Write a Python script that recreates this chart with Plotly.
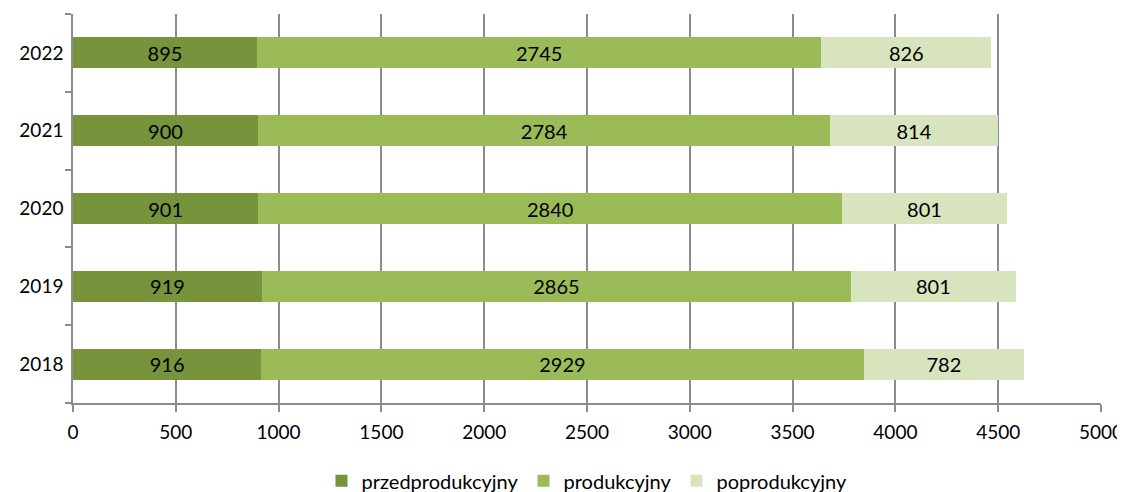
import plotly.graph_objects as go

years = ["2018", "2019", "2020", "2021", "2022"]
przedprodukcyjny = [916, 919, 901, 900, 895]
produkcyjny = [2929, 2865, 2840, 2784, 2745]
poprodukcyjny = [782, 801, 801, 814, 826]
x_ticks = [0, 500, 1000, 1500, 2000, 2500, 3000, 3500, 4000, 4500, 5000]

series = [
    ("przedprodukcyjny", przedprodukcyjny, "#77933C"),
    ("produkcyjny", produkcyjny, "#9BBB59"),
    ("poprodukcyjny", poprodukcyjny, "#D7E4BD"),
]

FONT = "Lato, 'Liberation Sans', sans-serif"

fig = go.Figure()
for name, vals, col in series:
    fig.add_trace(go.Bar(
        y=years, x=vals, name=name, orientation="h",
        marker=dict(color=col, line=dict(width=0)),
        text=[str(v) for v in vals], textposition="inside",
        insidetextanchor="middle", textangle=0, constraintext="none",
        textfont=dict(color="black", size=20, family=FONT),
    ))

# page body has an 8px default margin; size the figure to fit the window
fig.update_layout(
    barmode="stack", bargap=0.6,
    width=1117, height=484,
    margin=dict(l=65, r=24, t=6, b=89, autoexpand=False),
    plot_bgcolor="white", paper_bgcolor="white",
    font=dict(family=FONT, size=19, color="black"),
    legend=dict(orientation="h", x=0.5, xanchor="center", y=-0.2, yanchor="middle",
                font=dict(size=20), traceorder="normal", itemsizing="constant",
                itemwidth=30),
    showlegend=True,
)
fig.update_xaxes(
    range=[0, 5000], tickvals=x_ticks, ticktext=[str(v) for v in x_ticks],
    showgrid=True, gridcolor="#8C8C8C", gridwidth=1.5,
    showline=True, linecolor="#8C8C8C", linewidth=1.5,
    ticks="outside", ticklen=7, tickcolor="#8C8C8C", tickwidth=1.5,
    zeroline=False, tickfont=dict(size=19), automargin=False, ticklabelstandoff=4,
)
fig.update_yaxes(
    type="category", categoryorder="array", categoryarray=years,
    showgrid=False, showline=True, linecolor="#8C8C8C", linewidth=1.5,
    ticks="outside", tickson="boundaries", ticklen=6, tickcolor="#8C8C8C", tickwidth=1.5,
    tickfont=dict(size=19), ticklabelstandoff=4, automargin=False,
)

fig.write_html("out.html")
